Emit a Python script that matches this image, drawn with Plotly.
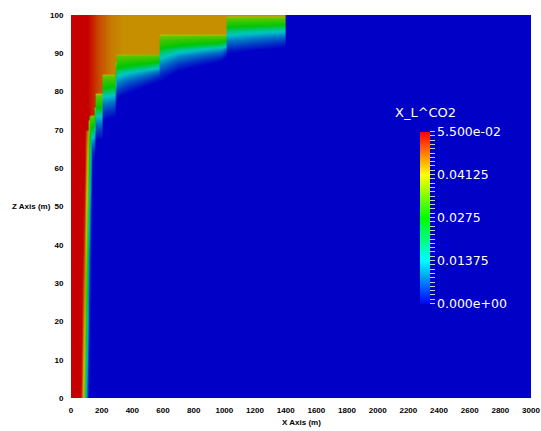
import numpy as np
import plotly.graph_objects as go

# ---- values ----
# green contour (X_L^CO2 ~ 0.0275) of the near-vertical front on the left: depth z -> x
front_z = [0, 25, 50, 65, 70, 75, 100]
front_x = [93, 104, 115, 123, 127, 130, 130]
# concentration across that front, offset from the green contour (m)
front_off = [-30, -20, -10, 0, 8, 16, 27]
front_val = [0.055, 0.048, 0.040, 0.0275, 0.0137, 0.004, 0.0]

# base of the upper high-concentration layer (stair-step profile): x -> z
cap_x = [0, 110, 126, 154, 157, 206, 210, 292, 297, 575, 580, 1010, 1015, 1402, 1405, 3000]
cap_z = [70, 70, 74, 74, 79.3, 79.3, 84.4, 84.4, 89.7, 89.7, 94.8, 94.8, 99.6, 99.6, 101, 101]
# concentration inside that upper layer: x -> value
gas_x = [0, 110, 180, 260, 340, 3000]
gas_v = [0.055, 0.055, 0.050, 0.0465, 0.0451, 0.0451]
# depth of the diffused band below each step: x -> metres
band_x = [0, 110, 118, 154, 157, 206, 210, 292, 297, 380, 480, 575, 580, 700, 850, 980, 1010,
          1015, 1200, 1402, 1405, 3000]
band_L = [0.5, 0.5, 12, 12, 12, 12, 12, 11, 12, 10, 8.5, 7, 12.5, 9.5, 8, 7, 6,
          10, 9, 8, 0.3, 0.3]
# concentration through the band vs. fraction of its depth
band_t = [0, 0.04, 0.28, 0.4, 0.5, 0.65, 0.82, 1.0]
band_v = [0.040, 0.034, 0.0275, 0.019, 0.0135, 0.008, 0.0035, 0.0]

# colour bar
cb_vals = [0.0, 0.01375, 0.0275, 0.04125, 0.055]
cb_text = ["0.000e+00", "0.01375", "0.0275", "0.04125", "5.500e-02"]
x_ticks = list(range(0, 3001, 200))
z_ticks = list(range(0, 101, 10))

# ---- grid ----
xs = np.concatenate([np.arange(0, 1501, 5), np.arange(1600, 3001, 100)]).astype(float)
zs = np.arange(0, 100.001, 0.25)
X, Z = np.meshgrid(xs, zs)

b = np.interp(xs, cap_x, cap_z)[None, :]
L = np.interp(xs, band_x, band_L)[None, :]
g = np.interp(xs, gas_x, gas_v)[None, :]
xg = np.interp(zs, front_z, front_x)[:, None]

vf = np.interp(X - xg, front_off, front_val)
d = b - Z
vb = np.interp(np.clip(d / L, 0, 2), band_t, band_v)
field = np.where(d <= 0, np.broadcast_to(g, X.shape), np.maximum(vb, vf))
field = np.round(field, 5)

k = 0.78
c = lambda r, gg, bb: f"rgb({int(r*k)},{int(gg*k)},{int(bb*k)})"
dim_scale = [[0, c(0, 0, 255)], [0.25, c(0, 255, 255)], [0.5, c(0, 255, 0)],
             [0.75, c(255, 255, 0)], [1, c(255, 0, 0)]]
bright_scale = [[0, "rgb(0,0,255)"], [0.25, "rgb(0,255,255)"], [0.5, "rgb(0,255,0)"],
                [0.75, "rgb(255,255,0)"], [1, "rgb(255,0,0)"]]

fig = go.Figure()
fig.add_trace(go.Heatmap(x=xs, y=zs, z=field, zmin=0, zmax=0.055,
                         colorscale=dim_scale, showscale=False, hoverinfo="skip"))

minor_vals = [i * 0.055 / 40 for i in range(41)]
minor_text = []
for v in minor_vals:
    lab = ""
    for cv, ct in zip(cb_vals, cb_text):
        if abs(v - cv) < 1e-9:
            lab = ct
    minor_text.append(lab)

W, H = 541, 431
ml, mr, mt, mb = 71, 10, 15, 33
pw, ph = W - ml - mr, H - mt - mb

fig.add_trace(go.Scatter(
    x=[-1000, -1000], y=[-1000, -1000], mode="markers", hoverinfo="skip",
    marker=dict(color=[0, 0.055], cmin=0, cmax=0.055, colorscale=bright_scale,
                showscale=True,
                colorbar=dict(thickness=10, lenmode="pixels", len=171.6,
                              x=(420 - ml) / pw, xanchor="left", xpad=0,
                              y=(H - mb - 217.5) / ph, yanchor="middle", ypad=0,
                              outlinewidth=0, ticks="outside", ticklen=5,
                              tickcolor="rgb(200,200,215)", tickwidth=1,
                              tickvals=minor_vals, ticktext=minor_text,
                              tickfont=dict(family="DejaVu Sans", size=12.5, color="white"))),
    showlegend=False))

axfont = dict(family="Liberation Sans", size=8, color="black", weight="bold")
fig.update_xaxes(range=[0, 3000], tickvals=x_ticks, ticktext=[str(v) for v in x_ticks],
                 showgrid=False, zeroline=False, showline=False, automargin=False,
                 ticks="outside", ticklen=4, tickcolor="rgba(0,0,0,0)", tickfont=axfont)
fig.update_yaxes(range=[0, 100], tickvals=z_ticks, ticktext=[str(v) for v in z_ticks],
                 showgrid=False, zeroline=False, showline=False, automargin=False,
                 ticks="outside", ticklen=5, tickcolor="rgba(0,0,0,0)", tickfont=axfont)

fig.update_layout(
    width=W, height=H, margin=dict(l=ml, r=mr, t=mt, b=mb, autoexpand=False),
    paper_bgcolor="white", plot_bgcolor="rgb(0,0,198)",
    annotations=[
        dict(text="X Axis (m)", x=0.5, y=(H - mb - 422) / ph, xref="paper", yref="paper",
             showarrow=False, xanchor="center", yanchor="middle", font=axfont),
        dict(text="Z Axis (m)", x=(31 - ml) / pw, y=0.5, xref="paper", yref="paper",
             showarrow=False, xanchor="center", yanchor="middle", font=axfont),
        dict(text="X_L^CO2", x=(425 - ml) / pw, y=(H - mb - 113) / ph, xref="paper", yref="paper",
             showarrow=False, xanchor="center", yanchor="middle",
             font=dict(family="DejaVu Sans", size=13, color="white")),
    ],
)

fig.write_html("out.html")
